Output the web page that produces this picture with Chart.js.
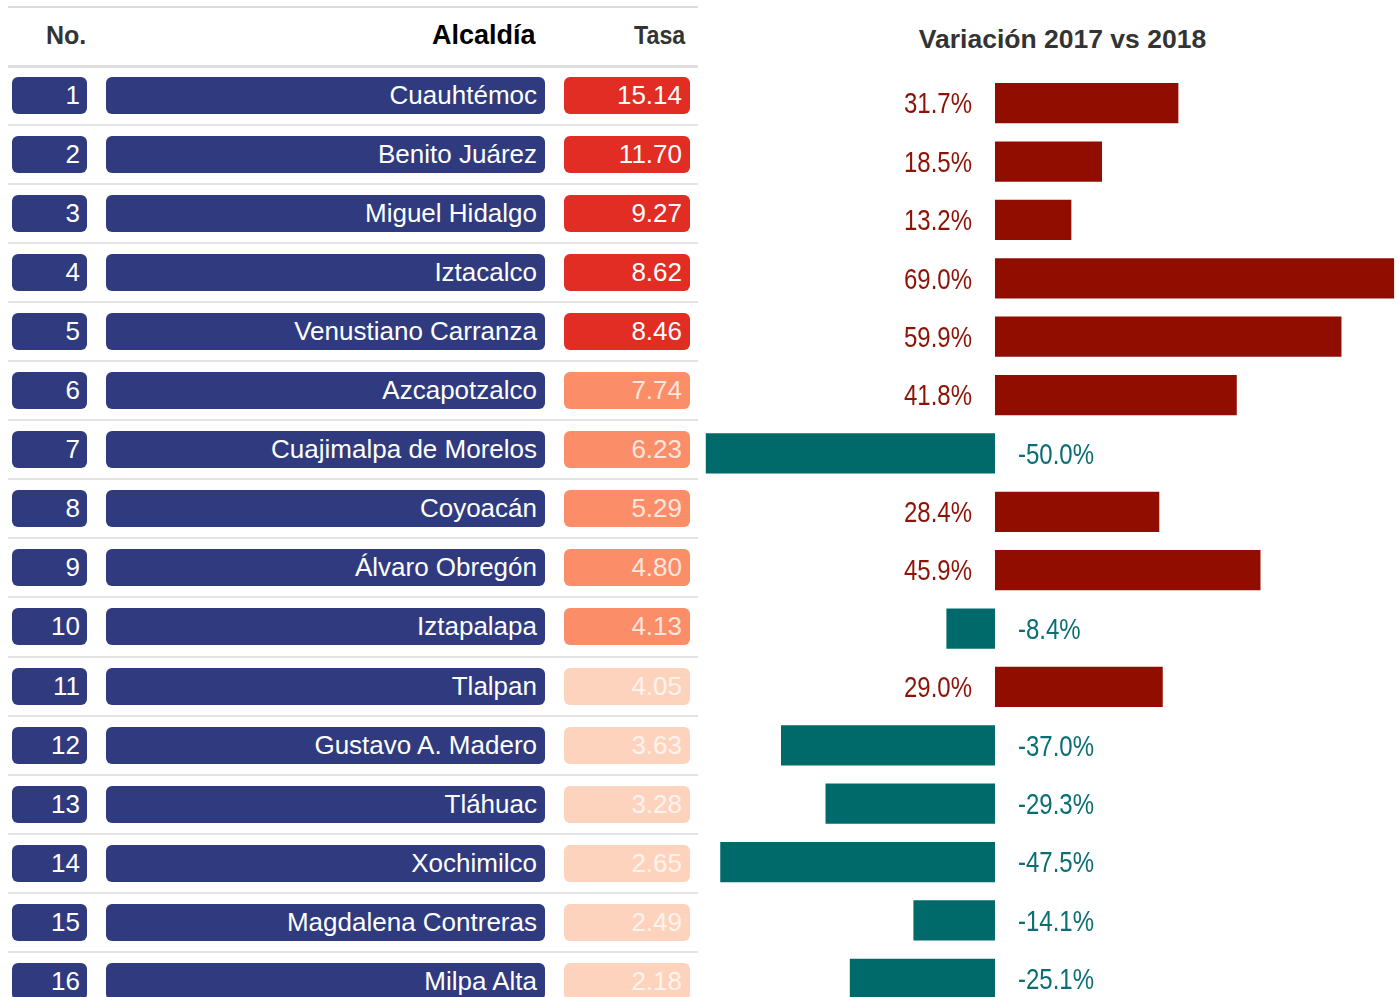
<!DOCTYPE html>
<html>
<head>
<meta charset="utf-8">
<script src="https://cdn.jsdelivr.net/npm/chart.js"></script>
<style>
  html, body { margin: 0; padding: 0; background: #fff; }
  body { width: 1399px; height: 997px; overflow: hidden; position: relative; font-family: "Liberation Sans", Arial, sans-serif; }
  .line { position: absolute; left: 8px; width: 690px; height: 2px; background: #e4e4e4; }
  .hdr { position: absolute; top: 19px; font-weight: bold; line-height: 32px; }
  .pill { position: absolute; height: 37px; border-radius: 6px; color: #fff; font-size: 26px; line-height: 37px; text-align: right; box-sizing: border-box; padding-right: 8px; white-space: nowrap; }
  .navy { background: #2f3b7e; }
  #title { position: absolute; left: 880px; width: 365px; top: 24px; text-align: center; font-weight: bold; font-size: 26.5px; color: #333; }
  #wrap { position: absolute; left: 700px; top: 0; width: 699px; height: 1015px; }
</style>
</head>
<body>
<div id="table"></div>
<div id="title">Variación 2017 vs 2018</div>
<div id="wrap"><canvas id="myChart" width="699" height="1015"></canvas></div>
<script>
var numeros = [1, 2, 3, 4, 5, 6, 7, 8, 9, 10, 11, 12, 13, 14, 15, 16];
var alcaldias = ["Cuauhtémoc", "Benito Juárez", "Miguel Hidalgo", "Iztacalco", "Venustiano Carranza",
    "Azcapotzalco", "Cuajimalpa de Morelos", "Coyoacán", "Álvaro Obregón", "Iztapalapa",
    "Tlalpan", "Gustavo A. Madero", "Tláhuac", "Xochimilco", "Magdalena Contreras", "Milpa Alta"];
var tasa = ["15.14", "11.70", "9.27", "8.62", "8.46", "7.74", "6.23", "5.29", "4.80", "4.13",
    "4.05", "3.63", "3.28", "2.65", "2.49", "2.18"];
var variacion = [31.7, 18.5, 13.2, 69.0, 59.9, 41.8, -50.0, 28.4, 45.9, -8.4,
    29.0, -37.0, -29.3, -47.5, -14.1, -25.1];

// colores de la columna Tasa
function colorTasa(i) {
    if (i < 5) return {bg: '#e22d25', fg: '#fff'};
    if (i < 10) return {bg: '#fc8d69', fg: '#fde6dc'};
    return {bg: '#fdd3be', fg: '#fff3ec'};
}

// tabla izquierda
var table = document.getElementById('table');
var html = '';
html += '<div class="line" style="top:6px;background:#dcdcdc"></div>';
html += '<div class="hdr" style="left:46px;font-size:25px;color:#333">No.</div>';
html += '<div class="hdr" style="left:432px;font-size:27px;color:#000">Alcaldía</div>';
html += '<div class="hdr" style="left:634px;font-size:25px;color:#333;transform:scaleX(0.93);transform-origin:left">Tasa</div>';
var pitch = 59.05;
for (var i = 0; i < numeros.length; i++) {
    var yTop = 77 + i * pitch;
    var c = colorTasa(i);
    html += '<div class="line" style="top:' + (yTop - 12) + 'px;' + (i == 0 ? 'height:3px;background:#dedede' : '') + '"></div>';
    html += '<div class="pill navy" style="left:12px;width:75px;top:' + yTop + 'px;padding-right:7px">' + numeros[i] + '</div>';
    html += '<div class="pill navy" style="left:106px;width:439px;top:' + yTop + 'px">' + alcaldias[i] + '</div>';
    html += '<div class="pill" style="left:564px;width:126px;top:' + yTop + 'px;background:' + c.bg + ';color:' + c.fg + '">' + tasa[i] + '</div>';
}
table.innerHTML = html;

// etiquetas de porcentaje junto al eje cero
var barLabels = {
    id: 'barLabels',
    afterDatasetsDraw: function(chart) {
        var ctx = chart.ctx;
        var meta = chart.getDatasetMeta(0);
        var x0 = chart.scales.x.getPixelForValue(0);
        meta.data.forEach(function(bar, i) {
            var v = variacion[i];
            ctx.save();
            ctx.font = '30px "Liberation Sans", Arial, sans-serif';
            ctx.fillStyle = v >= 0 ? '#8e1307' : '#0a6e73';
            ctx.textBaseline = 'middle';
            ctx.textAlign = v >= 0 ? 'right' : 'left';
            ctx.translate(v >= 0 ? x0 - 23 : x0 + 23, bar.y + 2);
            ctx.scale(0.8, 1);
            ctx.fillText(v.toFixed(1) + '%', 0, 0);
            ctx.restore();
        });
    }
};

var ctx = document.getElementById('myChart').getContext('2d');
var myChart = new Chart(ctx, {
    type: 'bar',
    data: {
        labels: alcaldias,
        datasets: [{
            data: variacion,
            backgroundColor: variacion.map(function(v) { return v >= 0 ? '#900d00' : '#006a6b'; }),
            borderWidth: 0,
            barPercentage: 0.69,
            categoryPercentage: 1
        }]
    },
    options: {
        indexAxis: 'y',
        responsive: false,
        animation: false,
        layout: {
            padding: {top: 74, bottom: 7, left: 0, right: 2}
        },
        scales: {
            x: {display: false, min: -51, max: 69.5},
            y: {display: false}
        },
        plugins: {
            legend: {display: false},
            tooltip: {enabled: false}
        }
    },
    plugins: [barLabels]
});
</script>
</body>
</html>
